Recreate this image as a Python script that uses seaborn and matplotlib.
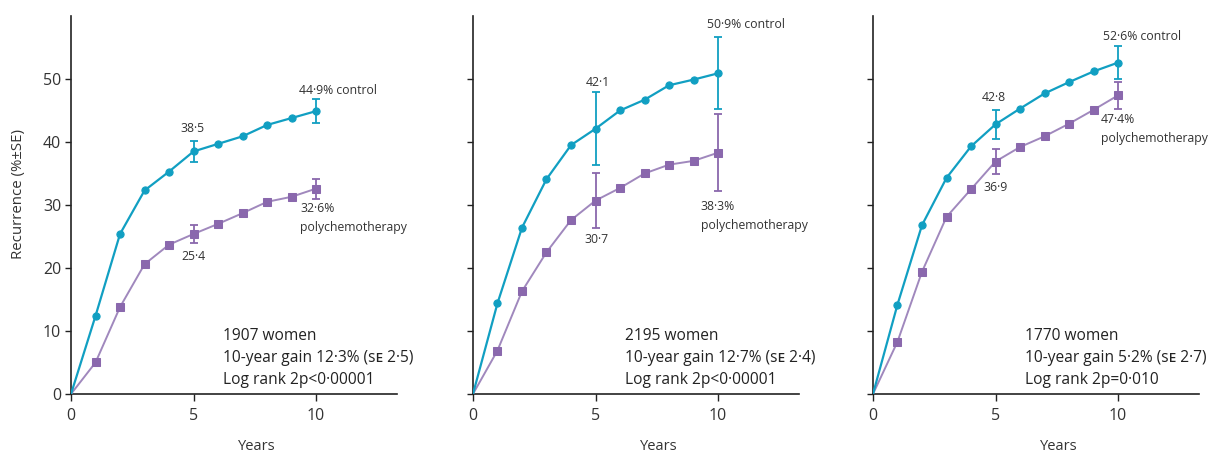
import matplotlib
matplotlib.use("Agg")
import matplotlib.pyplot as plt
import seaborn as sns
import pandas as pd

years = list(range(0, 11))

# Cumulative recurrence (%) by year, three patient groups
control_a = [0, 12.4, 25.4, 32.3, 35.3, 38.5, 39.7, 40.9, 42.7, 43.8, 44.9]
poly_a = [0, 5.0, 13.8, 20.6, 23.7, 25.4, 27.0, 28.7, 30.5, 31.3, 32.6]
control_b = [0, 14.4, 26.4, 34.1, 39.5, 42.1, 45.0, 46.7, 49.0, 49.9, 50.9]
poly_b = [0, 6.9, 16.3, 22.5, 27.6, 30.7, 32.7, 35.0, 36.4, 37.0, 38.3]
control_c = [0, 14.2, 26.8, 34.3, 39.3, 42.8, 45.3, 47.7, 49.5, 51.2, 52.6]
poly_c = [0, 8.3, 19.4, 28.1, 32.5, 36.9, 39.2, 40.9, 42.9, 45.1, 47.4]

# Standard errors at 5 and 10 years
se_years = [5, 10]
se_control_a = [1.7, 1.85]
se_poly_a = [1.5, 1.6]
se_control_b = [5.8, 5.7]
se_poly_b = [4.4, 6.1]
se_control_c = [2.35, 2.65]
se_poly_c = [1.95, 2.1]

summary_a = ["1907 women", "10-year gain 12·3% (sᴇ 2·5)", "Log rank 2p<0·00001"]
summary_b = ["2195 women", "10-year gain 12·7% (sᴇ 2·4)", "Log rank 2p<0·00001"]
summary_c = ["1770 women", "10-year gain 5·2% (sᴇ 2·7)", "Log rank 2p=0·010"]

y_ticks = [0, 10, 20, 30, 40, 50]
x_ticks = [0, 5, 10]

teal = "#119fc2"
purple_mark = "#8a68ad"
purple_line = "#a088bd"
text_col = "#333333"

sns.set_theme(style="ticks")
plt.rcParams["font.family"] = ["Open Sans", "DejaVu Sans"]

fig = plt.figure(figsize=(12.14, 4.54), dpi=100)

lefts = [0.0585, 0.3896, 0.7191]
panels = [
    (control_a, poly_a, se_control_a, se_poly_a, summary_a,
     # label anchor positions: (x, y) in data coordinates
     dict(c_end=(9.3, 48.2), c_mid=(4.95, 42.1), p_end=(9.35, 29.4), p_mid=(5.0, 21.8))),
    (control_b, poly_b, se_control_b, se_poly_b, summary_b,
     dict(c_end=(9.55, 58.7), c_mid=(5.1, 49.4), p_end=(9.3, 29.7), p_mid=(5.05, 24.5))),
    (control_c, poly_c, se_control_c, se_poly_c, summary_c,
     dict(c_end=(9.4, 56.8), c_mid=(4.95, 47.0), p_end=(9.3, 43.5), p_mid=(5.0, 32.7))),
]

def fmt(v):
    return f"{v:.1f}".replace(".", "·")

lbl_size = 8.8

for i, (ctrl, poly, se_c, se_p, summary, pos) in enumerate(panels):
    ax = fig.add_axes([lefts[i], 0.1322, 0.2685, 0.8326])
    df = pd.DataFrame({
        "Years": years * 2,
        "Recurrence": ctrl + poly,
        "group": ["control"] * len(years) + ["polychemotherapy"] * len(years),
    })
    dc = df[df.group == "control"]
    dp = df[df.group == "polychemotherapy"]
    sns.lineplot(data=dp, x="Years", y="Recurrence", ax=ax, color=purple_line,
                 lw=1.4, marker="s", markersize=6, markerfacecolor=purple_mark,
                 markeredgecolor=purple_mark, markevery=slice(1, None), zorder=3)
    sns.lineplot(data=dc, x="Years", y="Recurrence", ax=ax, color=teal,
                 lw=1.6, marker="o", markersize=5.2, markerfacecolor=teal,
                 markeredgecolor=teal, markevery=slice(1, None), zorder=4)

    c_at = [ctrl[y] for y in se_years]
    p_at = [poly[y] for y in se_years]
    ax.errorbar(se_years, p_at, yerr=se_p, fmt="none", ecolor=purple_mark,
                elinewidth=1.3, capsize=3, capthick=1.3, zorder=3)
    ax.errorbar(se_years, c_at, yerr=se_c, fmt="none", ecolor=teal,
                elinewidth=1.3, capsize=3, capthick=1.3, zorder=4)

    # value labels
    ax.text(*pos["c_end"], f"{fmt(ctrl[10])}% control", fontsize=lbl_size,
            color=text_col, ha="left", va="center")
    ax.text(*pos["c_mid"], fmt(ctrl[5]), fontsize=lbl_size, color=text_col,
            ha="center", va="center")
    ax.text(pos["p_end"][0], pos["p_end"][1], f"{fmt(poly[10])}%", fontsize=lbl_size,
            color=text_col, ha="left", va="center")
    ax.text(pos["p_end"][0], pos["p_end"][1] - 2.9, "polychemotherapy",
            fontsize=lbl_size, color=text_col, ha="left", va="center")
    ax.text(*pos["p_mid"], fmt(poly[5]), fontsize=lbl_size, color=text_col,
            ha="center", va="center")

    for k, line in enumerate(summary):
        ax.text(6.2, 9.2 - k * 3.5, line, fontsize=11.2, color="#222222",
                ha="left", va="center")

    ax.set_xlim(0, 13.3)
    ax.set_ylim(0, 60)
    ax.set_xticks(x_ticks)
    ax.set_yticks(y_ticks)
    if i == 0:
        ax.set_yticklabels([str(t) for t in y_ticks])
        ax.set_ylabel("Recurrence (%±SE)", fontsize=10.8, color=text_col)
        ax.yaxis.set_label_coords(-0.138, 0.53)
    else:
        ax.set_yticklabels([])
        ax.set_ylabel("")
    ax.set_xlabel("Years", fontsize=10.5, color=text_col)
    ax.xaxis.label.set_va("center")
    ax.xaxis.set_label_coords(0.57, -0.14)
    ax.tick_params(axis="x", length=5, width=1.0, pad=5, labelsize=11.5,
                   colors="#222222", labelcolor=text_col)
    ax.tick_params(axis="y", length=4, width=1.0, pad=3, labelsize=11.5,
                   colors="#222222", labelcolor=text_col)
    sns.despine(ax=ax)
    for s in ("left", "bottom"):
        ax.spines[s].set_color("#222222")
        ax.spines[s].set_linewidth(1.2)
    ax.set_facecolor("white")

fig.savefig("out.png", dpi=100, facecolor="white")
